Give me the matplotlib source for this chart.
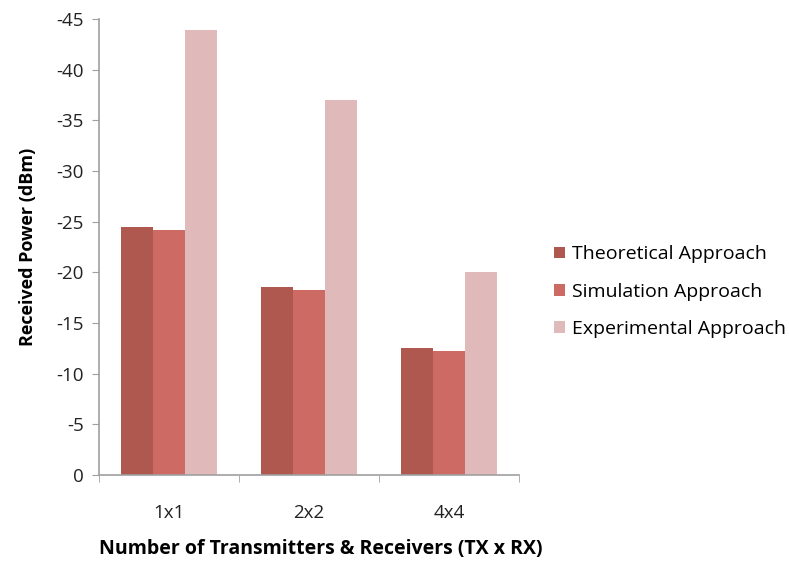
import numpy as np
import matplotlib
matplotlib.use("Agg")
import matplotlib.pyplot as plt

plt.rcParams['font.family'] = ['Open Sans', 'DejaVu Sans']
plt.rcParams['axes.unicode_minus'] = False

categories = ['1x1', '2x2', '4x4']
theoretical = [-24.5, -18.6, -12.5]
simulation = [-24.2, -18.3, -12.2]
experimental = [-43.9, -37.0, -20.0]
series_names = ['Theoretical Approach', 'Simulation Approach', 'Experimental Approach']
colors = ['#AE5850', '#CD6A64', '#E0BABA']

fig = plt.figure(figsize=(7.89, 5.61), dpi=100)
ax = fig.add_axes([0.1255, 0.1533, 0.5325, 0.8127])

x = np.arange(len(categories))
w = 0.23
for i, (vals, name, c) in enumerate(zip([theoretical, simulation, experimental], series_names, colors)):
    ax.bar(x + (i - 1) * w, vals, width=w, color=c, label=name, zorder=2)

ax.set_xlim(-0.5, len(categories) - 0.5)
ax.set_ylim(0, -45)
ax.set_yticks(np.arange(0, -46, -5))
ax.set_xticks(x)
ax.set_xticklabels(categories)
# category separator ticks
ax.set_xticks(np.arange(-0.5, len(categories), 1), minor=True)
ax.tick_params(axis='x', which='major', length=0, pad=21, labelsize=13.5, colors='#222222')
ax.tick_params(axis='x', which='minor', length=5, color='#A0A0A0', direction='out')
ax.tick_params(axis='y', length=5, color='#A0A0A0', labelcolor='#222222',
               direction='out', labelsize=13.5, pad=6)

for s in ['top', 'right']:
    ax.spines[s].set_visible(False)
for s in ['left', 'bottom']:
    ax.spines[s].set_color('#A0A0A0')
    ax.spines[s].set_linewidth(1.2)

ax.set_ylabel('Received Power (dBm)', fontsize=13, fontweight='bold', labelpad=14)
fig.text(0.407, 1 - 549 / 561, 'Number of Transmitters & Receivers (TX x RX)',
         fontsize=14, fontweight='bold', ha='center', va='center')

fig.legend(loc='center left', bbox_to_anchor=(0.68, 0.48), frameon=False,
           fontsize=14, handlelength=0.55, handleheight=0.55, handletextpad=0.4,
           labelspacing=1.0)

fig.savefig('out.png', dpi=100)
